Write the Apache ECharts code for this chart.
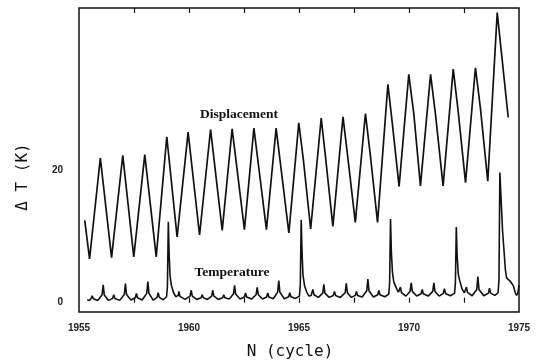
<!DOCTYPE html>
<html>
<head>
<meta charset="utf-8">
<script src="https://cdn.jsdelivr.net/npm/echarts@6/dist/echarts.min.js"></script>
<style>
  html, body { margin: 0; padding: 0; background: #fff; }
  #chart { width: 545px; height: 364px; }
</style>
</head>
<body>
<div id="chart"></div>
<script>
// x tick labels / tick positions
const xLabels = [1955, 1960, 1965, 1970, 1975];
const xTicks = [1957.5, 1960, 1962.5, 1965, 1967.5, 1970, 1972.5];
const yLabels = [0, 20];

// Displacement curve [cycle, dT]
const displacement = [
  [1955.26, 12.4], [1955.48, 6.6], [1955.97, 21.8], [1956.48, 6.8], [1956.99, 22.2],
  [1957.49, 6.9], [1957.99, 22.3], [1958.51, 6.9], [1958.99, 25.0], [1959.46, 9.9],
  [1959.96, 25.7], [1960.48, 10.2], [1960.98, 26.1], [1961.51, 10.9], [1961.96, 26.2],
  [1962.52, 11.0], [1962.95, 26.3], [1963.52, 11.0], [1963.96, 26.3], [1964.54, 10.5],
  [1964.99, 27.1], [1965.2, 21.5], [1965.53, 11.1], [1966.01, 27.8], [1966.21, 21.8],
  [1966.54, 11.5], [1967.0, 28.0], [1967.24, 21.3], [1967.56, 12.1], [1968.02, 28.5],
  [1968.25, 22.0], [1968.57, 12.1], [1969.04, 32.9], [1969.25, 26.8], [1969.55, 17.5],
  [1969.99, 34.4], [1970.22, 28.4], [1970.52, 17.6], [1970.98, 34.4], [1971.2, 28.5],
  [1971.55, 17.6], [1972.01, 35.2], [1972.23, 29.0], [1972.57, 18.1], [1973.02, 35.4],
  [1973.25, 29.2], [1973.58, 18.3], [1974.01, 43.7], [1974.51, 27.9]
];

// Temperature curve [cycle, dT]
const temperature = [
  [1955.37, 0.4], [1955.48, 0.35], [1955.56, 0.7], [1955.60, 1.05],
  [1955.65, 0.6], [1955.85, 0.35], [1956.05, 1.2], [1956.10, 2.7],
  [1956.15, 1.15], [1956.34, 0.35], [1956.53, 0.65], [1956.58, 1.2],
  [1956.63, 0.65], [1956.85, 0.35], [1957.06, 1.25], [1957.11, 2.9],
  [1957.16, 1.25], [1957.36, 0.4], [1957.56, 0.75], [1957.61, 1.4],
  [1957.66, 0.75], [1957.87, 0.4], [1958.08, 1.4], [1958.13, 3.2],
  [1958.18, 1.4], [1958.37, 0.4], [1958.55, 0.8], [1958.60, 1.5],
  [1958.65, 0.8], [1958.83, 0.45], [1958.98, 0.9], [1959.02, 2.5], [1959.06, 12.2],
  [1959.10, 7.0], [1959.14, 4.0], [1959.20, 2.6], [1959.30, 1.5], [1959.40, 0.9],
  [1959.47, 0.9], [1959.51, 1.1], [1959.54, 1.7],
  [1959.59, 0.95], [1959.82, 0.5], [1960.05, 1.0], [1960.10, 1.9],
  [1960.15, 1.0], [1960.35, 0.5], [1960.55, 0.75], [1960.60, 1.2],
  [1960.65, 0.75], [1960.84, 0.5], [1961.03, 1.0], [1961.08, 1.9],
  [1961.13, 1.0], [1961.33, 0.5], [1961.53, 0.75], [1961.58, 1.2],
  [1961.63, 0.75], [1961.83, 0.55], [1962.02, 1.3], [1962.07, 2.6],
  [1962.12, 1.3], [1962.32, 0.55], [1962.52, 0.85], [1962.57, 1.45],
  [1962.62, 0.85], [1962.84, 0.55], [1963.05, 1.2], [1963.10, 2.3],
  [1963.15, 1.2], [1963.34, 0.55], [1963.53, 0.85], [1963.58, 1.45],
  [1963.63, 0.85], [1963.83, 0.6], [1964.03, 1.6], [1964.08, 3.35],
  [1964.13, 1.6], [1964.33, 0.6], [1964.53, 0.9], [1964.58, 1.5],
  [1964.63, 0.9], [1964.84, 0.65], [1965.02, 1.0], [1965.06, 2.8], [1965.10, 12.5],
  [1965.14, 7.5], [1965.18, 4.2], [1965.25, 2.6], [1965.35, 1.6], [1965.45, 1.0],
  [1965.55, 1.1], [1965.60, 1.4], [1965.63, 2.0],
  [1965.68, 1.2], [1965.88, 0.8], [1966.08, 1.45], [1966.13, 2.75],
  [1966.18, 1.45], [1966.37, 0.8], [1966.56, 1.1], [1966.61, 1.7],
  [1966.66, 1.1], [1966.88, 0.8], [1967.10, 1.5], [1967.15, 2.9],
  [1967.20, 1.5], [1967.38, 0.8], [1967.56, 1.1], [1967.61, 1.7],
  [1967.66, 1.1], [1967.87, 0.85], [1968.08, 1.8], [1968.13, 3.55],
  [1968.18, 1.8], [1968.38, 0.85], [1968.58, 1.2], [1968.63, 1.85],
  [1968.68, 1.2], [1968.90, 0.9], [1969.08, 1.3], [1969.12, 3.0], [1969.16, 12.6],
  [1969.20, 7.5], [1969.25, 4.5], [1969.31, 3.1], [1969.39, 2.8], [1969.45, 2.0],
  [1969.52, 1.6], [1969.58, 1.8], [1969.61, 2.35],
  [1969.66, 1.5], [1969.86, 1.0], [1970.05, 1.7], [1970.10, 3.0],
  [1970.15, 1.7], [1970.35, 1.0], [1970.55, 1.35], [1970.60, 2.0],
  [1970.65, 1.35], [1970.87, 1.0], [1971.08, 1.7], [1971.13, 3.0],
  [1971.18, 1.7], [1971.37, 1.0], [1971.56, 1.4], [1971.61, 2.1],
  [1971.66, 1.4], [1971.88, 1.05], [1972.07, 1.4], [1972.11, 3.0], [1972.15, 11.4],
  [1972.19, 7.0], [1972.24, 4.3], [1972.30, 3.4], [1972.34, 3.2], [1972.42, 2.0],
  [1972.52, 1.5], [1972.58, 1.8], [1972.61, 2.35],
  [1972.66, 1.55], [1972.87, 1.05], [1973.08, 2.0], [1973.13, 3.95],
  [1973.18, 2.0], [1973.40, 1.05], [1973.61, 1.45], [1973.66, 2.2],
  [1973.71, 1.45], [1973.90, 1.1], [1974.05, 1.5], [1974.09, 3.5], [1974.13, 19.6],
  [1974.25, 11.0], [1974.38, 5.0], [1974.44, 3.7], [1974.61, 3.2], [1974.75, 2.5],
  [1974.83, 1.5], [1974.89, 1.1], [1974.95, 1.5], [1975.0, 2.6]
];

const chart = echarts.init(document.getElementById('chart'), null, { renderer: 'canvas' });

const ink = '#111';
const tickFont = { fontFamily: 'Liberation Sans', fontWeight: 'bold', fontSize: 10, color: '#222' };
// plain numbers, no thousands separator
const plain = function (v) { return String(v); };

let option = {
  animation: false,
  backgroundColor: '#fff',
  grid: {
    left: 79, right: 26, top: 8, bottom: 52,
    show: true,
    borderColor: ink,
    borderWidth: 1.5
  },
  xAxis: [{
    type: 'value',
    min: 1955,
    max: 1975,
    axisLine: { show: false },
    splitLine: { show: false },
    axisTick: { show: true, inside: true, length: 5, customValues: xTicks, lineStyle: { color: ink, width: 1.2 } },
    axisLabel: Object.assign({ customValues: xLabels, margin: 11, formatter: plain }, tickFont)
  }, {
    type: 'value',
    position: 'top',
    min: 1955,
    max: 1975,
    axisLine: { show: false },
    splitLine: { show: false },
    axisTick: { show: true, inside: true, length: 5, customValues: xTicks, lineStyle: { color: ink, width: 1.2 } },
    axisLabel: { show: false }
  }],
  yAxis: {
    type: 'value',
    min: -1.4,
    max: 44.4,
    axisLine: { show: false },
    splitLine: { show: false },
    axisTick: { show: false },
    axisLabel: Object.assign({ customValues: yLabels, margin: 16, formatter: plain }, tickFont)
  },
  graphic: [{
    type: 'text',
    x: 290, y: 352,
    style: { text: 'N (cycle)', fill: ink, font: '16px "DejaVu Sans Mono"', align: 'center', verticalAlign: 'middle' }
  }, {
    type: 'text',
    x: 23, y: 177,
    rotation: Math.PI / 2,
    style: { text: 'Δ T (K)', fill: ink, font: '16px "DejaVu Sans Mono"', align: 'center', verticalAlign: 'middle' }
  }, {
    type: 'text',
    x: 239, y: 115,
    style: { text: 'Displacement', fill: ink, font: 'bold 13.5px "Liberation Serif"', align: 'center', verticalAlign: 'middle' }
  }, {
    type: 'text',
    x: 232, y: 273,
    style: { text: 'Temperature', fill: ink, font: 'bold 13.5px "Liberation Serif"', align: 'center', verticalAlign: 'middle' }
  }],
  series: [{
    name: 'Displacement',
    type: 'line',
    data: displacement,
    showSymbol: false,
    lineStyle: { color: ink, width: 1.7 }
  }, {
    name: 'Temperature',
    type: 'line',
    data: temperature,
    showSymbol: false,
    lineStyle: { color: ink, width: 1.6 }
  }]
};
chart.setOption(option);
</script>
</body>
</html>
